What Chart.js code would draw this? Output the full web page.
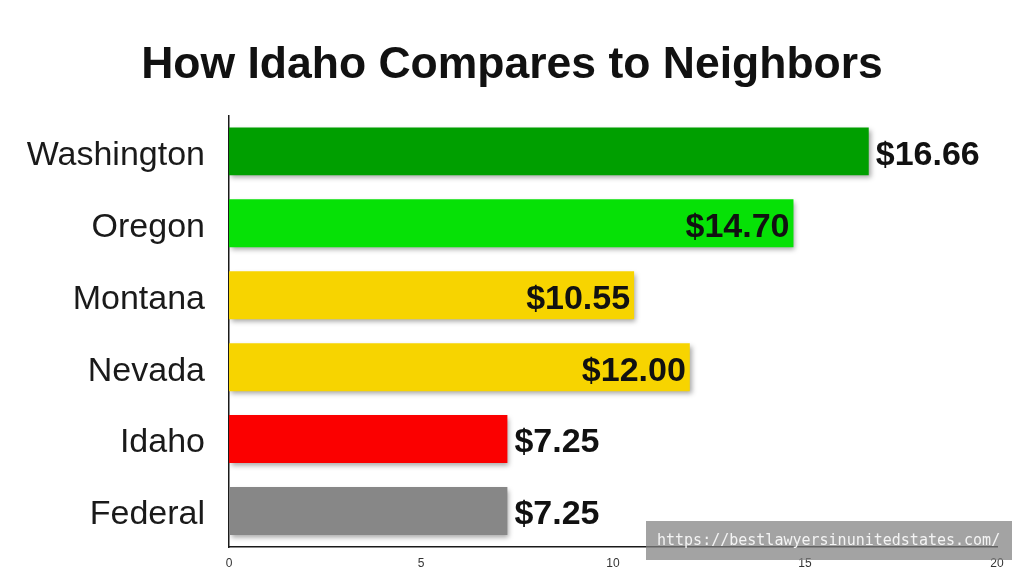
<!DOCTYPE html>
<html>
<head>
<meta charset="utf-8">
<script src="https://cdn.jsdelivr.net/npm/chart.js@4.4.1/dist/chart.umd.min.js"></script>
<style>
    body { margin: 0; background: #ffffff; }
    #wrap { position: relative; width: 1024px; height: 572px; }
    #watermark {
        position: absolute; left: 646px; top: 521px; width: 355px; height: 39px;
        padding-left: 11px;
        background: rgba(128, 128, 128, 0.72); color: #f4f4f4;
        font: 15px "DejaVu Sans Mono", monospace;
        line-height: 39px;
    }
</style>
</head>
<body>
<div id="wrap">
    <canvas id="BarChart_idaho" width="1024" height="572"></canvas>
    <div id="watermark">https://bestlawyersinunitedstates.com/</div>
</div>
<script>
// данные
let states = ["Washington", "Oregon", "Montana", "Nevada", "Idaho", "Federal"];
let wages = [16.66, 14.70, 10.55, 12.00, 7.25, 7.25];
let barColors = ["#009f00", "#06e106", "#f7d400", "#f7d400", "#fb0000", "#878787"];
let labelInside = [false, true, true, true, false, false];
let xTicks = [0, 5, 10, 15, 20];

const fontFamily = '"Liberation Sans", Arial, sans-serif';

// тень под столбцами
const barShadow = {
    id: 'barShadow',
    beforeDatasetsDraw(chart) {
        const ctx = chart.ctx;
        ctx.save();
        ctx.shadowColor = 'rgba(0,0,0,0.35)';
        ctx.shadowBlur = 5;
        ctx.shadowOffsetX = 2;
        ctx.shadowOffsetY = 3;
    },
    afterDatasetsDraw(chart) {
        chart.ctx.restore();
    }
};

// подписи значений
const valueLabels = {
    id: 'valueLabels',
    afterDatasetsDraw(chart) {
        const ctx = chart.ctx;
        const meta = chart.getDatasetMeta(0);
        ctx.save();
        ctx.font = 'bold 34px ' + fontFamily;
        ctx.fillStyle = '#111111';
        ctx.textBaseline = 'middle';
        meta.data.forEach(function(bar, i) {
            const txt = '$' + wages[i].toFixed(2);
            if (labelInside[i]) {
                ctx.textAlign = 'right';
                ctx.fillText(txt, bar.x - 4, bar.y + 4);
            } else {
                ctx.textAlign = 'left';
                ctx.fillText(txt, bar.x + 7, bar.y + 4);
            }
        });
        ctx.restore();
    }
};

const ctxBar = document.getElementById('BarChart_idaho').getContext('2d');
const myBarChart = new Chart(ctxBar, {
    type: 'bar',
    data: {
        labels: states,
        datasets: [{
            data: wages,
            backgroundColor: barColors,
            borderWidth: 0,
            categoryPercentage: 1.0,
            barPercentage: 0.667
        }]
    },
    options: {
        indexAxis: 'y',
        responsive: false,
        animation: false,
        layout: {
            padding: { left: 27, right: 27, top: 0, bottom: 2 }
        },
        scales: {
            x: {
                min: 0,
                max: 20,
                afterBuildTicks: function(scale) {
                    scale.ticks = xTicks.map(function(v) { return { value: v }; });
                },
                afterFit: function(scale) {
                    scale.height = 23;
                },
                grid: { display: false, drawTicks: false },
                border: { display: true, color: '#1a1a1a', width: 1.5 },
                ticks: {
                    padding: 9,
                    color: '#333333',
                    font: { size: 12, family: fontFamily }
                }
            },
            y: {
                afterFit: function(scale) {
                    scale.width = 202;
                    scale.paddingTop = 0;
                    scale.paddingBottom = 0;
                },
                grid: { display: false, drawTicks: false },
                border: { display: true, color: '#1a1a1a', width: 1.5 },
                ticks: {
                    padding: 24,
                    labelOffset: 4,
                    color: '#1a1a1a',
                    font: { size: 34, family: fontFamily }
                }
            }
        },
        plugins: {
            legend: { display: false },
            tooltip: { enabled: false },
            title: {
                display: true,
                text: 'How Idaho Compares to Neighbors',
                color: '#111111',
                font: { size: 44.5, weight: 'bold', family: fontFamily },
                padding: { top: 39, bottom: 23 }
            }
        }
    },
    plugins: [barShadow, valueLabels]
});
</script>
</body>
</html>
